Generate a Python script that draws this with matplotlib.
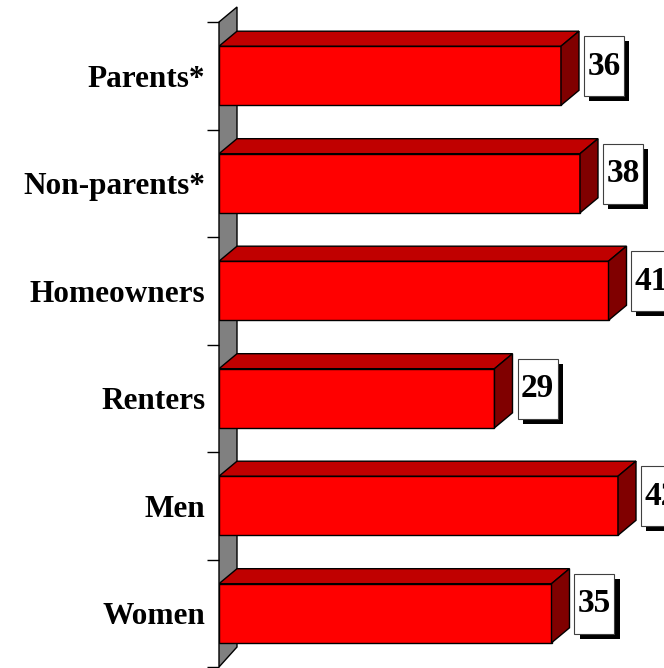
import matplotlib.pyplot as plt
from matplotlib.patches import Polygon, Rectangle
import numpy as np

# data (top to bottom in the chart)
categories = ['Parents*', 'Non-parents*', 'Homeowners', 'Renters', 'Men', 'Women']
values = [36, 38, 41, 29, 42, 35]

plt.rcParams['font.family'] = ['Liberation Serif', 'DejaVu Serif']

W, H = 664, 668
fig = plt.figure(figsize=(W / 100, H / 100), dpi=100)

# axes placed in pixels: x=0 at px 219, 9.5 px per unit; bands of 107.5 px
x0_px, top_px, bot_px = 219, 22, 667
ax = fig.add_axes([x0_px / W, 1 - bot_px / H, (W - x0_px) / W, (bot_px - top_px) / H])
ax.set_xlim(0, (W - x0_px) / 9.5)
n = len(categories)
ax.set_ylim(-0.5, n - 0.5)

# depth of the 3d effect in data units
dx = 18 / 9.5
dy = 15 / 107.5
bh = 0.55

ypos = np.arange(n)[::-1]

# back wall
wall = Polygon([(0, -0.5), (dx, -0.5 + 20 / 107.5), (dx, n - 0.5 + dy), (0, n - 0.5)],
               closed=True, fc='#808080', ec='black', lw=1, clip_on=False, zorder=1)
ax.add_patch(wall)

for y, v in zip(ypos, values):
    lo, hi = y - bh / 2, y + bh / 2
    front = Rectangle((0, lo), v, bh, fc='#FF0000', ec='black', lw=1, zorder=3)
    top = Polygon([(0, hi), (dx, hi + dy), (v + dx, hi + dy), (v, hi)],
                  closed=True, fc='#C00000', ec='black', lw=1, zorder=3)
    side = Polygon([(v, lo), (v, hi), (v + dx, hi + dy), (v + dx, lo + dy)],
                   closed=True, fc='#800000', ec='black', lw=1, zorder=3)
    ax.add_patch(front)
    ax.add_patch(top)
    ax.add_patch(side)

    # value box with shadow
    bx = v + dx + 5 / 9.5
    bw = 40 / 9.5
    bhh = 60 / 107.5
    by = y + 0.09 - bhh / 2
    shadow = Rectangle((bx + 5 / 9.5, by - 5 / 107.5), bw, bhh, fc='black', ec='none',
                       zorder=4, clip_on=False)
    box = Rectangle((bx, by), bw, bhh, fc='white', ec='#404040', lw=0.8, zorder=5,
                    clip_on=False)
    ax.add_patch(shadow)
    ax.add_patch(box)
    ax.text(bx + bw / 2, by + bhh / 2, str(v), ha='center', va='center',
            fontsize=24, fontweight='bold', zorder=6, clip_on=False)

# ticks at band edges, labels at band centres
ax.set_yticks(np.arange(-0.5, n, 1.0))
ax.set_yticklabels([])
ax.tick_params(axis='y', which='major', length=8.6, width=1, direction='out')
ax.set_yticks(ypos, minor=True)
ax.set_yticklabels(categories, minor=True, fontsize=22.5, fontweight='bold')
ax.tick_params(axis='y', which='minor', length=0, pad=10)
ax.set_xticks([])
for s in ax.spines.values():
    s.set_visible(False)

fig.savefig('out.png', dpi=100)
